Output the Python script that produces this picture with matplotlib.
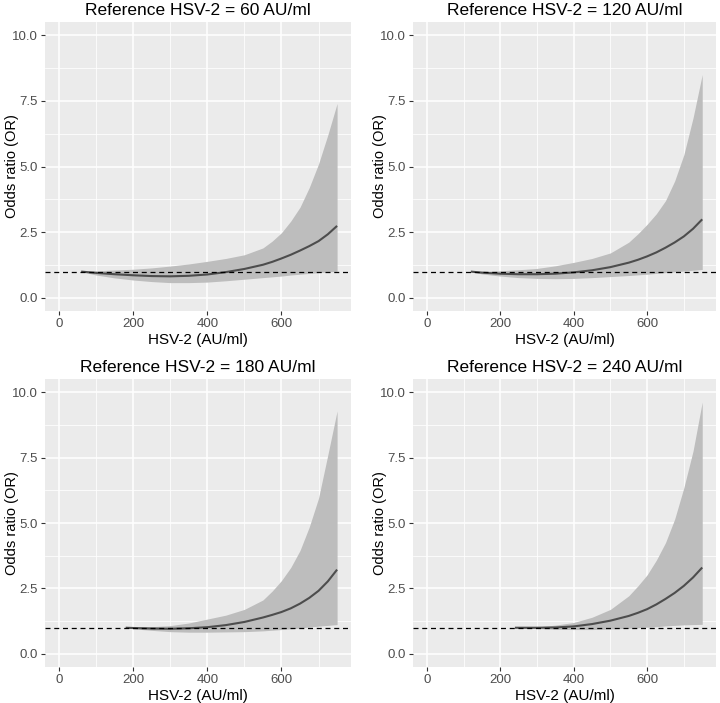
"""Odds ratio curves for HSV-2 antibody levels, four reference values."""

import matplotlib

matplotlib.use("Agg")
import matplotlib.pyplot as plt  # noqa: E402
from matplotlib.ticker import MultipleLocator  # noqa: E402

# --- data ---------------------------------------------------------------
ref_values = [60, 120, 180, 240]

x_ref60 = [60, 100, 150, 200, 250, 300, 350, 400, 450, 500, 550, 575, 600, 625, 650, 675, 700, 725, 750]
or_ref60 = [1.00, 0.95, 0.90, 0.86, 0.83, 0.82, 0.84, 0.89, 0.98, 1.10, 1.26, 1.37, 1.50, 1.64, 1.80, 1.97, 2.16, 2.42, 2.74]
hi_ref60 = [1.00, 1.03, 1.06, 1.09, 1.14, 1.21, 1.29, 1.39, 1.50, 1.64, 1.90, 2.16, 2.48, 2.92, 3.45, 4.20, 5.10, 6.20, 7.40]
lo_ref60 = [1.00, 0.87, 0.76, 0.68, 0.62, 0.58, 0.58, 0.60, 0.65, 0.71, 0.77, 0.80, 0.83, 0.87, 0.90, 0.93, 0.96, 0.99, 1.01]

x_ref120 = [120, 150, 200, 250, 300, 350, 400, 450, 500, 550, 575, 600, 625, 650, 675, 700, 725, 750]
or_ref120 = [1.00, 0.96, 0.92, 0.90, 0.90, 0.92, 0.97, 1.05, 1.17, 1.34, 1.45, 1.58, 1.73, 1.91, 2.11, 2.34, 2.63, 2.99]
hi_ref120 = [1.00, 1.01, 1.03, 1.07, 1.12, 1.22, 1.35, 1.50, 1.71, 2.12, 2.44, 2.80, 3.20, 3.70, 4.45, 5.45, 6.85, 8.50]
lo_ref120 = [1.00, 0.91, 0.83, 0.77, 0.74, 0.73, 0.74, 0.77, 0.81, 0.85, 0.875, 0.90, 0.93, 0.96, 0.99, 1.02, 1.05, 1.08]

x_ref180 = [180, 200, 250, 300, 350, 400, 450, 500, 550, 575, 600, 625, 650, 675, 700, 725, 750]
or_ref180 = [1.00, 0.99, 0.97, 0.96, 0.98, 1.02, 1.10, 1.22, 1.39, 1.49, 1.60, 1.74, 1.92, 2.14, 2.41, 2.77, 3.22]
hi_ref180 = [1.00, 1.01, 1.04, 1.08, 1.18, 1.33, 1.48, 1.70, 2.06, 2.40, 2.80, 3.30, 3.95, 4.85, 5.95, 7.60, 9.28]
lo_ref180 = [1.00, 0.96, 0.90, 0.85, 0.83, 0.83, 0.84, 0.85, 0.88, 0.905, 0.93, 0.96, 0.99, 1.03, 1.06, 1.09, 1.12]

x_ref240 = [240, 250, 300, 350, 400, 450, 500, 550, 575, 600, 625, 650, 675, 700, 725, 750]
or_ref240 = [1.00, 1.00, 1.00, 1.01, 1.05, 1.14, 1.27, 1.45, 1.57, 1.71, 1.89, 2.10, 2.33, 2.60, 2.92, 3.30]
hi_ref240 = [1.00, 1.00, 1.03, 1.10, 1.20, 1.40, 1.70, 2.22, 2.60, 3.02, 3.58, 4.25, 5.15, 6.35, 7.75, 9.62]
lo_ref240 = [1.00, 0.99, 0.97, 0.94, 0.93, 0.93, 0.95, 0.98, 1.00, 1.02, 1.04, 1.07, 1.09, 1.11, 1.12, 1.13]

panels = [
    (x_ref60, or_ref60, lo_ref60, hi_ref60),
    (x_ref120, or_ref120, lo_ref120, hi_ref120),
    (x_ref180, or_ref180, lo_ref180, hi_ref180),
    (x_ref240, or_ref240, lo_ref240, hi_ref240),
]

# --- layout (pixel boxes: left, top, right, bottom) ------------------------
W, H = 720, 703
boxes = [
    (45, 22, 351, 311),
    (413, 22, 716, 311),
    (45, 379, 351, 667),
    (413, 379, 716, 667),
]

plt.rcParams["font.family"] = ["Liberation Sans", "DejaVu Sans"]
fig = plt.figure(figsize=(W / 100, H / 100), dpi=100)

for (l, t, r, b), ref, (x, y, lo, hi) in zip(boxes, ref_values, panels):
    ax = fig.add_axes([l / W, 1 - b / H, (r - l) / W, (b - t) / H])
    ax.set_facecolor("#EBEBEB")
    for s in ax.spines.values():
        s.set_visible(False)

    ax.fill_between(x, lo, hi, color="#BDBDBD", linewidth=0, zorder=2)
    ax.plot(x, y, color="#4D4D4D", lw=1.5, solid_capstyle="butt", zorder=3)
    ax.axhline(1.0, color="black", lw=0.9, linestyle=(0, (4, 3)), zorder=4)

    ax.set_xlim(-37.5, 787.5)
    ax.set_ylim(-0.5, 10.5)
    ax.xaxis.set_minor_locator(MultipleLocator(100))
    ax.yaxis.set_minor_locator(MultipleLocator(1.25))
    ax.set_yticks([0, 2.5, 5, 7.5, 10])
    ax.set_yticklabels(["0.0", "2.5", "5.0", "7.5", "10.0"])
    ax.set_xticks([0, 200, 400, 600])
    ax.set_xticklabels(["0", "200", "400", "600"])
    ax.grid(which="major", color="white", lw=1.1, zorder=0)
    ax.grid(which="minor", color="white", lw=0.55, zorder=0)
    ax.set_axisbelow(True)
    ax.tick_params(which="major", length=3, width=0.8, color="#333333",
                   labelcolor="#4D4D4D", labelsize=9.5, pad=2)
    ax.tick_params(which="minor", length=0)

    ax.set_title(f"Reference HSV-2 = {ref} AU/ml", fontsize=12.5, pad=5)
    ax.set_xlabel("HSV-2 (AU/ml)", fontsize=11, labelpad=2)
    ax.set_ylabel("Odds ratio (OR)", fontsize=10.5)
    # label coordinate is the right edge of the rotated text
    ax.yaxis.set_label_coords(-26 / (r - l), 0.5)

fig.savefig("out.png", dpi=100)
plt.close(fig)
